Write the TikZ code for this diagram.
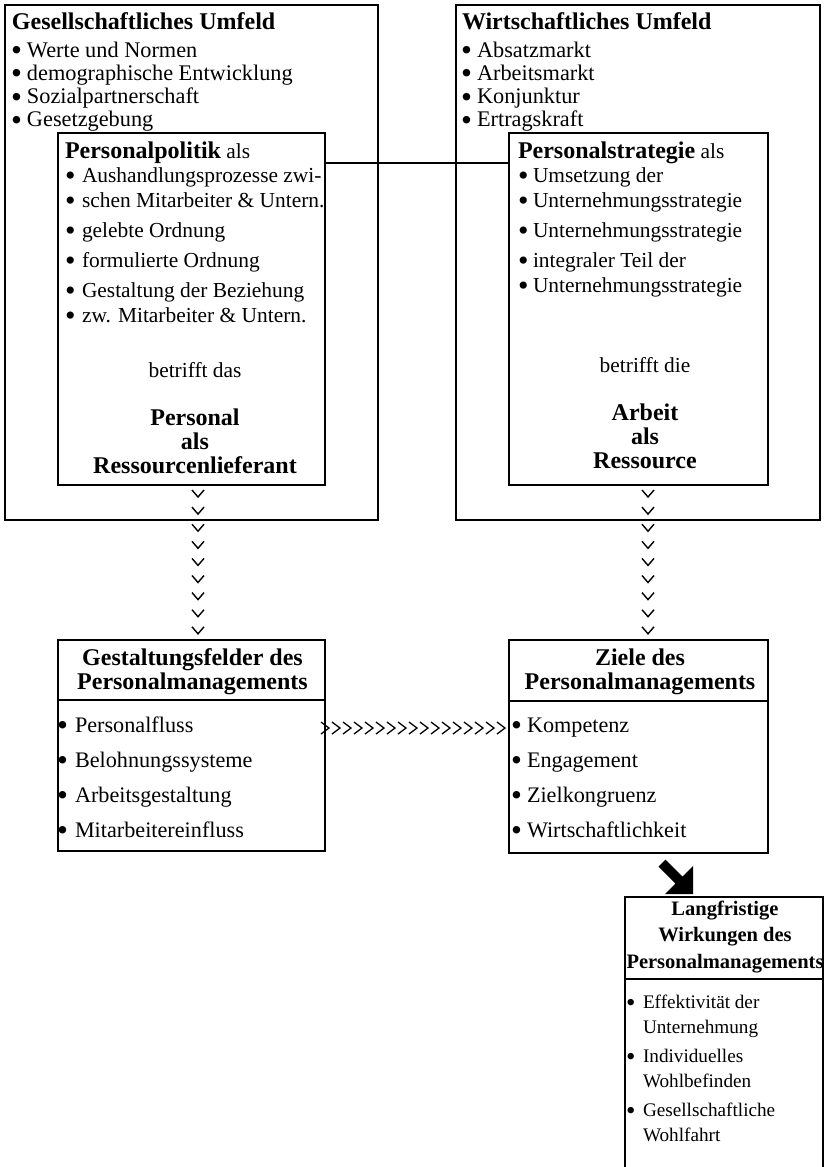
\documentclass[tikz,border=0pt]{standalone}
\usepackage{fontspec}
\usepackage{graphicx}
\setmainfont{Liberation Serif}
\usetikzlibrary{decorations.markings}
\newcommand\Zdot{\raisebox{-0.16em}{\scalebox{1.4}{\textbullet}}}
\newcommand\Zb[2][14pt]{\hbox{\makebox[#1][l]{\Zdot}#2}}
\newcommand\Zc[1]{\hbox to 0pt{\hss #1\hss}}
\newcommand\Zout{\fontsize{22.3}{24}\selectfont}
\newcommand\Zreg{\fontsize{21.4}{24}\selectfont}
\newcommand\Zlow{\fontsize{22.2}{24}\selectfont}
\newcommand\Zbold{\fontsize{24}{24}\selectfont\bfseries}
\tikzset{
  frame/.style={draw, line width=1.6pt, inner sep=0pt, outer sep=0pt, anchor=north west},
  txt/.style={anchor=base west, inner sep=0pt, outer sep=0pt},
  ctxt/.style={anchor=base, inner sep=0pt, outer sep=0pt},
  vchev/.style={decoration={markings,
      mark=between positions 12pt and 150pt step 17.1pt with
      {\draw[line width=1.4pt, line join=miter] (-7pt,6pt) -- (0pt,0pt) -- (-7pt,-6pt);}},
      decorate},
  hchev/.style={decoration={markings,
      mark=between positions 4pt and 182pt step 11pt with
      {\draw[line width=1.3pt, line join=miter] (-8pt,6pt) -- (0pt,0pt) -- (-8pt,-6pt);}},
      decorate},
  divider/.style={line width=1.5pt},
  link/.style={line width=1.6pt}
}
\begin{document}
\begin{tikzpicture}[x=1pt,y=-1pt]
\useasboundingbox (0,0) rectangle (825,1167);

% ---------- outer boxes ----------
\node[frame, line width=1.8pt, minimum width=373pt, minimum height=515pt] (gu) at (5,5) {};
\node[frame, line width=1.8pt, minimum width=364pt, minimum height=515pt] (wu) at (456,5) {};

\node[txt] (gut) at (11,29) {\vtop{\Zout\baselineskip=23.2pt
  \hbox{\hskip 1pt\Zbold Gesellschaftliches Umfeld}
  \vskip 5pt
  \Zb[16pt]{Werte und Normen}
  \Zb[16pt]{demographische Entwicklung}
  \Zb[16pt]{Sozialpartnerschaft}
  \Zb[16pt]{Gesetzgebung}}};

\node[txt] (wut) at (461,29) {\vtop{\Zout\baselineskip=23.2pt
  \hbox{\hskip 1pt\Zbold Wirtschaftliches Umfeld}
  \vskip 5pt
  \Zb[16pt]{Absatzmarkt}
  \Zb[16pt]{Arbeitsmarkt}
  \Zb[16pt]{Konjunktur}
  \Zb[16pt]{Ertragskraft}}};

% ---------- inner boxes ----------
\node[frame, fill=white, minimum width=267pt, minimum height=352pt] (pp) at (58,133) {};
\node[frame, fill=white, minimum width=259pt, minimum height=352pt] (ps) at (509,133) {};

\node[txt] (ppt) at (65,158) {\vtop{\Zreg\baselineskip=25pt
  \hbox{{\Zbold Personalpolitik}\Zreg{} als}
  \vskip -1pt
  \Zb[17pt]{Aushandlungsprozesse zwi-}
  \Zb[17pt]{schen Mitarbeiter \& Untern.}
  \vskip 5pt
  \Zb[17pt]{gelebte Ordnung}
  \vskip 5pt
  \Zb[17pt]{formulierte Ordnung}
  \vskip 5pt
  \Zb[17pt]{Gestaltung der Beziehung}
  \Zb[17pt]{zw. Mitarbeiter \& Untern.}}};

\node[ctxt] (ppc) at (195,377) {\vtop{\Zreg\baselineskip=24pt
  \Zc{betrifft das}
  \vskip 24pt
  \Zc{\Zbold Personal}
  \Zc{\Zbold als}
  \Zc{\Zbold Ressourcenlieferant}}};

\node[txt] (pst) at (518,158) {\vtop{\Zreg\baselineskip=25pt
  \hbox{{\Zbold Personalstrategie}\Zreg{} als}
  \vskip -1pt
  \Zb[15pt]{Umsetzung der}
  \Zb[15pt]{Unternehmungsstrategie}
  \vskip 5pt
  \Zb[15pt]{Unternehmungsstrategie}
  \vskip 5pt
  \Zb[15pt]{integraler Teil der}
  \Zb[15pt]{Unternehmungsstrategie}}};

\node[ctxt] (psc) at (645,372) {\vtop{\Zreg\baselineskip=24pt
  \Zc{betrifft die}
  \vskip 24pt
  \Zc{\Zbold Arbeit}
  \Zc{\Zbold als}
  \Zc{\Zbold Ressource}}};

\draw[link] ([yshift=-30pt]pp.north east) -- ([yshift=-30pt]ps.north west);

% ---------- lower boxes ----------
\node[frame, line width=1.5pt, minimum width=267pt, minimum height=211pt] (gf) at (58,640) {};
\node[frame, line width=1.5pt, minimum width=259pt, minimum height=213pt] (zl) at (509,640) {};

\node[ctxt] (gft) at (192.5,665) {\vtop{\Zbold\baselineskip=24pt
  \Zc{Gestaltungsfelder des}
  \Zc{Personalmanagements}}};
\draw[divider] ([yshift=-60pt]gf.north west) -- ([yshift=-60pt]gf.north east);
\node[txt] (gfi) at (57,732) {\vtop{\Zlow\baselineskip=35pt
  \Zb[18pt]{Personalfluss}
  \Zb[18pt]{Belohnungssysteme}
  \Zb[18pt]{Arbeitsgestaltung}
  \Zb[18pt]{Mitarbeitereinfluss}}};

\node[ctxt] (zlt) at (640,665) {\vtop{\Zbold\baselineskip=24pt
  \Zc{Ziele des}
  \Zc{Personalmanagements}}};
\draw[divider] ([yshift=-61pt]zl.north west) -- ([yshift=-61pt]zl.north east);
\node[txt] (zli) at (511,732) {\vtop{\Zlow\baselineskip=35pt
  \Zb[16pt]{Kompetenz}
  \Zb[16pt]{Engagement}
  \Zb[16pt]{Zielkongruenz}
  \Zb[16pt]{Wirtschaftlichkeit}}};

% ---------- chevron connectors ----------
\path[vchev] ([xshift=6.5pt]pp.south) -- ([xshift=6.5pt]gf.north);
\path[vchev] ([xshift=9.5pt]ps.south) -- ([xshift=9.5pt]zl.north);
\path[hchev] ([yshift=-88pt]gf.north east) -- ([yshift=-88pt]zl.north west);

% ---------- long-term effects box ----------
\node[inner sep=0pt, outer sep=0pt, anchor=north west, minimum width=198pt, minimum height=272pt] (lw) at (625,897) {};
\draw[line width=1.5pt] (lw.south west) -- (lw.north west) -- (lw.north east) -- (lw.south east);
\node[ctxt] (lwt) at (725,915) {\vtop{\fontsize{20.5}{26.5}\selectfont\bfseries\baselineskip=26.5pt
  \Zc{Langfristige}
  \Zc{Wirkungen des}
  \Zc{Personalmanagements}}};
\draw[divider] ([yshift=-82pt]lw.north west) -- ([yshift=-82pt]lw.north east);
\node[txt] (lwi) at (626,1008) {\vtop{\fontsize{19.2}{25}\selectfont\baselineskip=25pt
  \Zb[17pt]{Effektivität der}
  \hbox{\hskip 17pt Unternehmung}
  \vskip 4pt
  \Zb[17pt]{Individuelles}
  \hbox{\hskip 17pt Wohlbefinden}
  \vskip 4pt
  \Zb[17pt]{Gesellschaftliche}
  \hbox{\hskip 17pt Wohlfahrt}}};

% ---------- big arrow (tip at a2) ----------
\coordinate (a1) at (662,863);
\coordinate (a2) at (693,894);
\fill (a2) -- ++(0,-28) -- ++(-10.5,10.5) -- ++(-17,-17) -- ++(-7,7)
      -- ++(17,17) -- ++(-10.5,10.5) -- cycle;
\end{tikzpicture}
\end{document}
